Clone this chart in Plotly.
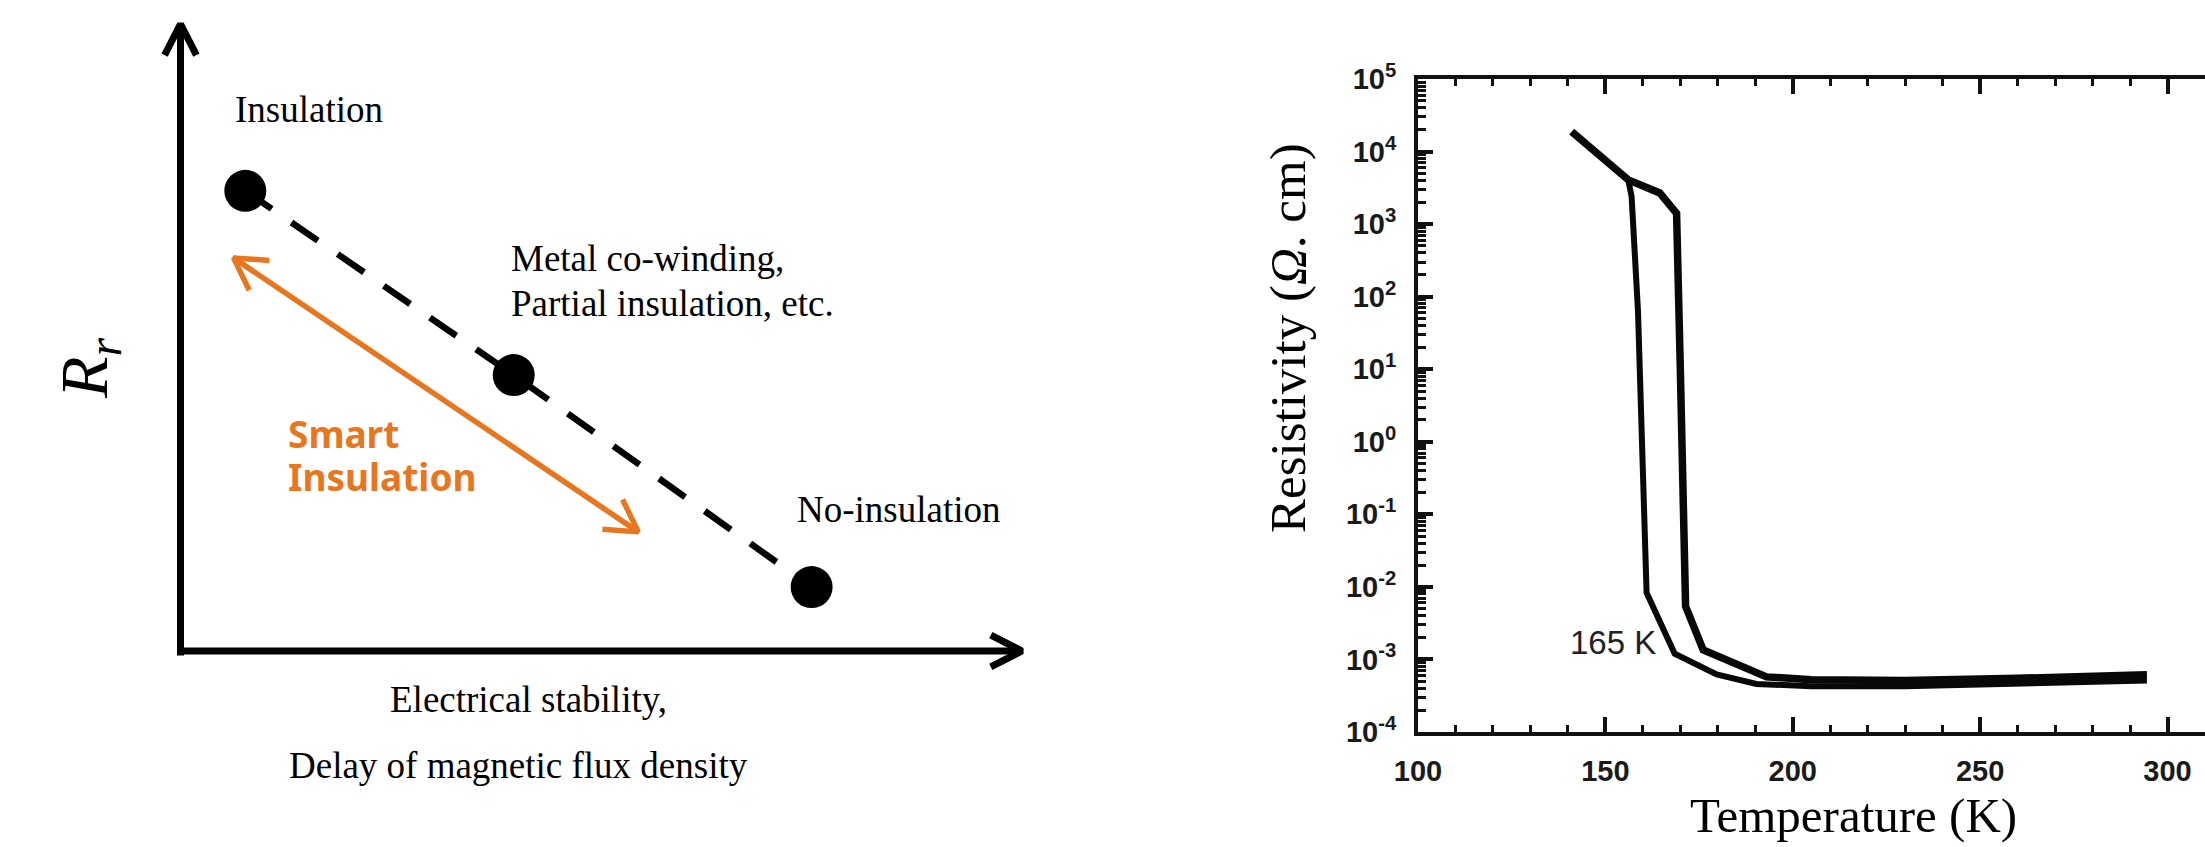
import math
import plotly.graph_objects as go

W, H = 2205, 847

# ---------------- left schematic (values in schematic units) ----------------
scheme_stability = [0.77, 3.96, 7.50]     # x of the three winding types
scheme_rr = [7.34, 4.40, 1.02]            # R_r of the three winding types
scheme_names = ["Insulation", "Metal co-winding,", "Partial insulation, etc.", "No-insulation"]
smart_from = [0.63, 6.27]
smart_to = [5.44, 1.90]
axis_extent = 10.0

# ---------------- right chart: resistivity vs temperature ----------------
T_outer = [141.0, 156.1, 164.5, 169.0, 170.0, 170.8, 171.4, 176.1, 188.5, 193.0, 205, 230, 260, 280, 294.5]
rho_outer = [1.88e4, 4.07e3, 2.69e3, 1.41e3, 10.0, 0.1, 5.4e-3, 1.35e-3, 6.9e-4, 5.75e-4, 5.25e-4, 5.13e-4, 5.5e-4, 5.9e-4, 6.17e-4]
T_inner = [156.1, 157.0, 158.7, 159.7, 160.5, 161.0, 168.5, 179.7, 190.3, 205, 230, 260, 280, 294.5]
rho_inner = [4.07e3, 2.4e3, 63.0, 1.64, 0.0427, 8.3e-3, 1.2e-3, 6.2e-4, 4.6e-4, 4.27e-4, 4.27e-4, 4.57e-4, 4.9e-4, 5.13e-4]
x_tick_vals = [100, 150, 200, 250, 300]
y_tick_exps = [-4, -3, -2, -1, 0, 1, 2, 3, 4, 5]
y_tick_text = ["10<sup>%d</sup>" % e for e in y_tick_exps]

# ---------------- layout geometry ----------------
ORIGIN_X, ORIGIN_Y = 180.5, 651.0
PXU, PXV = 84.15, 62.7
LEFT_W = 1102.5
x2_range = [(0 - ORIGIN_X) / PXU, (LEFT_W - ORIGIN_X) / PXU]
y2_range = [(ORIGIN_Y - H) / PXV, ORIGIN_Y / PXV]

PLOT_L, PLOT_T, PLOT_B = 1418.0, 79.0, 732.0
ORANGE = "#E8761F"
SERIF = "Liberation Serif, Times New Roman, serif"
SANS = "Liberation Sans, Arial, sans-serif"


def chevron(tip, tail, length=36, ang=28):
    tx, ty = tip[0] * PXU, -tip[1] * PXV
    sx, sy = tail[0] * PXU, -tail[1] * PXV
    dx, dy = tx - sx, ty - sy
    n = math.hypot(dx, dy)
    dx, dy = dx / n, dy / n
    pts = []
    for s in (1, -1):
        a = math.radians(ang) * s
        rx = dx * math.cos(a) - dy * math.sin(a)
        ry = dx * math.sin(a) + dy * math.cos(a)
        pts.append(((tx - length * rx) / PXU, -(ty - length * ry) / PXV))
    return [pts[0][0], tip[0], pts[1][0]], [pts[0][1], tip[1], pts[1][1]]


fig = go.Figure()

# ---- left schematic traces ----
ax_kw = dict(xaxis="x2", yaxis="y2", mode="lines", hoverinfo="skip", showlegend=False)
fig.add_trace(go.Scatter(x=[0, 0], y=[-0.07, axis_extent], line=dict(color="black", width=7), **ax_kw))
fig.add_trace(go.Scatter(x=[0, axis_extent], y=[0, 0], line=dict(color="black", width=7), **ax_kw))
cx, cy = chevron([0, axis_extent], [0, 0], 35, 27)
fig.add_trace(go.Scatter(x=cx, y=cy, line=dict(color="black", width=7), **ax_kw))
cx, cy = chevron([axis_extent, 0], [0, 0], 35, 27)
fig.add_trace(go.Scatter(x=cx, y=cy, line=dict(color="black", width=7), **ax_kw))

fig.add_trace(go.Scatter(x=scheme_stability, y=scheme_rr,
                         line=dict(color="black", width=6.5, dash="32px,24px"), **ax_kw))
fig.add_trace(go.Scatter(x=scheme_stability, y=scheme_rr, xaxis="x2", yaxis="y2", mode="markers",
                         marker=dict(color="black", size=42), hoverinfo="skip", showlegend=False))

fig.add_trace(go.Scatter(x=[smart_from[0], smart_to[0]], y=[smart_from[1], smart_to[1]],
                         line=dict(color=ORANGE, width=5.5), **ax_kw))
cx, cy = chevron(smart_from, smart_to, 36, 30)
fig.add_trace(go.Scatter(x=cx, y=cy, line=dict(color=ORANGE, width=5.5), **ax_kw))
cx, cy = chevron(smart_to, smart_from, 36, 30)
fig.add_trace(go.Scatter(x=cx, y=cy, line=dict(color=ORANGE, width=5.5), **ax_kw))

# ---- right chart traces ----
fig.add_trace(go.Scatter(x=T_outer, y=rho_outer, mode="lines", line=dict(color="#080808", width=7.5),
                         showlegend=False))
fig.add_trace(go.Scatter(x=T_inner, y=rho_inner, mode="lines", line=dict(color="#080808", width=6),
                         showlegend=False))

minor_y = [m * 10 ** e for e in range(-4, 5) for m in range(2, 10)]

ann = []
def sch_text(x, y, text, xanchor="center", size=37, color="black", family=SERIF, weight="normal", angle=0):
    ann.append(dict(x=x, y=y, xref="x2", yref="y2", text=text, showarrow=False, xanchor=xanchor,
                    yanchor="middle", textangle=angle,
                    font=dict(family=family, size=size, color=color, weight=weight)))

sch_text(1.523, 8.633, scheme_names[0])
sch_text(3.899, 6.26, scheme_names[1], xanchor="left")
sch_text(3.899, 5.547, scheme_names[2], xanchor="left")
sch_text(7.302, 2.262, scheme_names[3], xanchor="left")
sch_text(4.136, -0.769, "Electrical stability,")
sch_text(4.014, -1.821, "Delay of magnetic flux density")
sch_text(1.254, 3.476, "Smart", xanchor="left", size=37, color=ORANGE, family="Noto Sans, sans-serif", weight="bold")
sch_text(1.254, 2.783, "Insulation", xanchor="left", size=37, color=ORANGE, family="Noto Sans, sans-serif", weight="bold")
sch_text(-1.099, 4.513, "<i>R</i><sub><i>r</i></sub>", size=68, angle=-90)

ann.append(dict(x=1288 / W, y=1 - 338 / H, xref="paper", yref="paper", showarrow=False,
                text="Resistivity (<i>Ω</i>. cm)", textangle=-90, xanchor="center", yanchor="middle",
                font=dict(family=SERIF, size=51, color="black")))
ann.append(dict(x=1853 / W, y=1 - 815 / H, xref="paper", yref="paper", showarrow=False,
                text="Temperature (K)", xanchor="center", yanchor="middle",
                font=dict(family=SERIF, size=49, color="black")))
ann.append(dict(x=151.9, y=-2.77, xref="x", yref="y", showarrow=False, text="165 K",
                xanchor="center", yanchor="middle",
                font=dict(family=SANS, size=33, color="#222222")))

fig.update_layout(
    width=W, height=H, margin=dict(l=0, r=0, t=0, b=0, pad=0, autoexpand=False),
    paper_bgcolor="white", plot_bgcolor="white", showlegend=False,
    annotations=ann,
    xaxis=dict(domain=[PLOT_L / W, 1.0], range=[100, 310], tickmode="array", tickvals=x_tick_vals,
               automargin=False,
               ticks="inside", ticklen=15, tickwidth=3.5, tickcolor="#111", mirror="ticks",
               showline=True, linewidth=4, linecolor="#111", showgrid=False, zeroline=False,
               tickfont=dict(family=SANS, size=29, color="#1a1a1a", weight="bold"), ticklabelstandoff=10,
               minor=dict(dtick=10, ticks="inside", ticklen=7, tickwidth=3, tickcolor="#111", showgrid=False)),
    yaxis=dict(domain=[1 - PLOT_B / H, 1 - PLOT_T / H], type="log", range=[-4, 5], tickmode="array",
               automargin=False,
               tickvals=[10.0 ** e for e in y_tick_exps], ticktext=y_tick_text,
               ticks="inside", ticklen=15, tickwidth=3.5, tickcolor="#111", mirror=True,
               showline=True, linewidth=4, linecolor="#111", showgrid=False, zeroline=False,
               tickfont=dict(family=SANS, size=29, color="#1a1a1a", weight="bold"), ticklabelstandoff=12,
               minor=dict(tickmode="array", tickvals=minor_y, ticks="inside", ticklen=8, tickwidth=2.5,
                          tickcolor="#111", showgrid=False)),
    xaxis2=dict(domain=[0, LEFT_W / W], range=x2_range, visible=False, anchor="y2", automargin=False),
    yaxis2=dict(domain=[0, 1], range=y2_range, visible=False, anchor="x2", automargin=False),
)

fig.write_html("out.html")
